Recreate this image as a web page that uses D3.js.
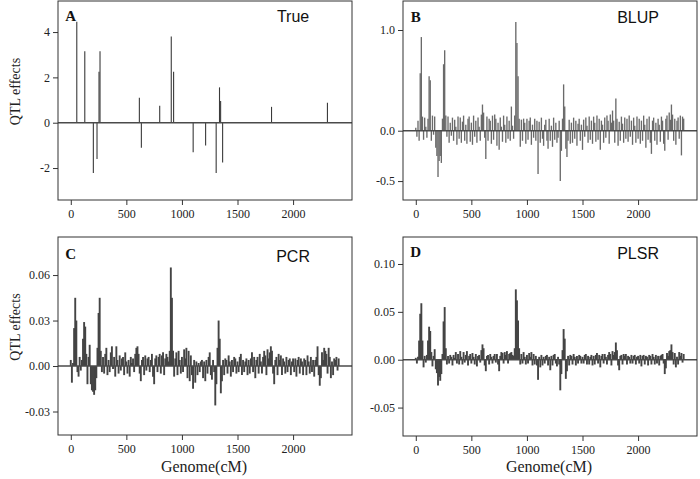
<!DOCTYPE html>
<html>
<head>
<meta charset="utf-8">
<script src="https://cdn.jsdelivr.net/npm/d3@7"></script>
<style>
  html, body { margin: 0; padding: 0; background: #fff; }
  svg { display: block; }
</style>
</head>
<body>
<svg id="chart" width="700" height="479"></svg>
<script>
// ---------------- DATA ----------------
// True QTL positions (cM) and effects
const truePos = [54,126,203,236,254,263,617,635,800,904,925,1101,1213,1308,1338,1348,1366,1806,2309];
const trueEff = [4.45,3.15,-2.22,-1.6,2.25,3.15,1.1,-1.1,0.75,3.8,2.25,-1.3,-1.0,-2.22,1.56,0.96,-1.75,0.7,0.88];

// Marker positions (cM) for estimated effects
const markerPos = [
0,10,20,30,40,50,60,70,80,90,
100,110,120,130,140,150,160,170,180,190,
200,210,220,230,240,250,260,270,280,290,
300,310,320,330,340,350,360,370,380,390,
400,410,420,430,440,450,460,470,480,490,
500,510,520,530,540,550,560,570,580,590,
600,610,620,630,640,650,660,670,680,690,
700,710,720,730,740,750,760,770,780,790,
800,810,820,830,840,850,860,870,880,890,
900,910,920,930,940,950,960,970,980,990,
1000,1010,1020,1030,1040,1050,1060,1070,1080,1090,
1100,1110,1120,1130,1140,1150,1160,1170,1180,1190,
1200,1210,1220,1230,1240,1250,1260,1270,1280,1290,
1300,1310,1320,1330,1340,1350,1360,1370,1380,1390,
1400,1410,1420,1430,1440,1450,1460,1470,1480,1490,
1500,1510,1520,1530,1540,1550,1560,1570,1580,1590,
1600,1610,1620,1630,1640,1650,1660,1670,1680,1690,
1700,1710,1720,1730,1740,1750,1760,1770,1780,1790,
1800,1810,1820,1830,1840,1850,1860,1870,1880,1890,
1900,1910,1920,1930,1940,1950,1960,1970,1980,1990,
2000,2010,2020,2030,2040,2050,2060,2070,2080,2090,
2100,2110,2120,2130,2140,2150,2160,2170,2180,2190,
2200,2210,2220,2230,2240,2250,2260,2270,2280,2290,
2300,2310,2320,2330,2340,2350,2360,2370,2380,2390,
2400,2410];

const blupEff = [
0.03,-0.06,0.1,-0.1,0.57,0.93,0.14,-0.09,0.13,0.04,
-0.07,0.12,0.54,0.5,-0.1,0.15,-0.04,0.14,-0.17,-0.25,
-0.46,-0.3,-0.25,-0.32,0.12,0.66,0.8,0.15,-0.06,0.14,
-0.12,0.08,-0.05,0.13,-0.1,0.11,0.04,-0.14,0.14,-0.08,
0.13,-0.12,0.09,0.15,-0.1,0.06,-0.13,0.12,0.14,-0.11,
0.08,-0.14,0.15,-0.06,0.1,-0.12,0.13,0.04,-0.1,0.16,
0.26,0.18,-0.07,-0.28,0.14,-0.1,0.12,0.1,-0.13,0.15,
-0.09,0.16,0.12,-0.15,0.08,-0.19,0.13,0.04,-0.11,0.15,
0.06,-0.12,0.14,-0.08,0.1,-0.1,0.24,0.05,-0.08,0.15,
1.08,0.87,0.54,0.12,-0.16,0.11,-0.1,0.12,0.08,-0.13,
0.12,-0.09,0.1,0.13,-0.14,0.06,-0.07,0.12,-0.1,0.1,
-0.43,0.09,-0.12,0.13,-0.08,-0.15,0.06,0.11,-0.1,-0.18,
0.12,-0.1,0.05,-0.16,0.13,-0.09,0.08,-0.12,-0.07,0.1,
-0.5,-0.2,0.12,0.46,0.24,-0.18,-0.26,-0.1,0.11,-0.13,
0.08,-0.12,0.13,-0.08,0.1,-0.15,0.07,0.12,-0.1,0.06,
-0.19,0.11,-0.06,0.13,0.05,-0.12,0.14,-0.09,0.1,-0.13,
0.14,0.08,-0.11,0.15,-0.09,0.12,-0.19,0.1,0.06,-0.12,
0.13,-0.07,0.15,0.1,-0.13,0.16,0.08,0.2,0.1,-0.12,
0.32,0.12,-0.15,0.09,-0.1,0.14,0.07,-0.12,0.13,-0.08,
0.12,-0.11,0.15,-0.06,0.1,-0.14,0.13,0.05,-0.12,0.14,
-0.08,0.12,-0.13,0.1,-0.1,0.15,0.06,-0.17,0.12,-0.09,
0.14,-0.12,-0.23,0.1,0.13,-0.1,0.08,-0.14,0.12,0.06,
-0.11,0.14,0.1,-0.13,-0.2,0.12,0.15,-0.09,0.18,0.11,
0.26,0.16,-0.1,0.12,-0.14,0.1,0.13,-0.08,0.15,-0.245,
0.14,0.12];

const pcrEff = [
0.004,-0.011,0.002,0.025,0.045,0.03,-0.004,-0.007,0.006,-0.003,
0.004,0.018,0.029,0.026,0.008,-0.012,0.006,0.014,-0.012,-0.016,
-0.017,-0.019,-0.016,-0.008,0.012,0.035,0.045,0.01,-0.004,0.006,
-0.005,0.008,0.012,-0.006,0.004,-0.004,0.009,0.013,-0.002,0.006,
-0.007,0.013,0.004,-0.005,0.007,-0.003,0.005,0.006,-0.006,0.009,
0.003,-0.005,0.004,-0.007,0.006,0.002,0.005,-0.004,0.008,0.012,
0.013,0.008,-0.005,-0.01,0.004,0.006,-0.006,0.007,-0.003,0.005,
0.006,-0.004,0.004,0.008,-0.007,-0.012,0.005,0.007,-0.004,0.006,
0.008,-0.005,0.007,0.009,-0.006,0.005,0.008,0.006,0.003,0.01,
0.065,0.045,0.01,-0.007,0.005,0.009,-0.006,0.01,0.004,-0.005,
0.006,-0.004,0.011,0.005,0.012,-0.008,0.01,-0.01,0.007,-0.006,
-0.015,0.004,-0.011,0.003,-0.006,0.002,-0.004,0.003,0.004,-0.008,
0.003,-0.01,0.004,-0.005,0.006,0.009,-0.006,-0.009,0.004,-0.004,
-0.026,-0.012,0.012,0.03,0.018,-0.018,-0.01,0.004,-0.006,0.005,
0.004,-0.005,0.007,0.003,-0.007,0.004,-0.004,0.006,0.005,-0.005,
0.003,-0.004,0.006,0.008,-0.006,0.004,-0.004,0.003,0.005,-0.006,
0.004,-0.005,0.005,0.009,-0.004,0.006,-0.008,0.004,0.006,-0.005,
0.008,0.003,-0.005,0.006,0.01,0.007,-0.006,0.011,0.005,0.009,
0.013,0.01,-0.005,-0.012,0.004,0.006,-0.006,0.008,0.004,0.007,
-0.006,0.005,0.003,-0.005,0.006,-0.004,0.004,0.005,-0.006,0.003,
0.005,-0.004,0.005,-0.007,0.004,0.006,-0.005,0.005,0.003,-0.006,
0.005,0.004,-0.006,0.007,0.003,-0.005,0.006,-0.004,0.004,-0.007,
0.004,0.006,0.013,-0.006,-0.013,-0.008,0.009,0.004,0.012,0.01,
0.008,-0.005,0.012,0.006,-0.008,0.003,-0.006,0.005,0.004,0.006,
-0.003,0.005];

const plsrEff = [
0.002,-0.004,0.003,0.02,0.048,0.059,0.02,-0.008,0.004,-0.003,
0.005,0.02,0.0345,0.03,0.008,-0.007,0.004,0.011,-0.01,-0.014,
-0.027,-0.018,-0.022,-0.015,0.006,0.04,0.055,0.012,-0.005,0.004,
-0.004,0.005,0.003,-0.006,0.005,0.002,0.008,-0.004,0.006,-0.005,
0.009,0.003,-0.005,0.008,-0.003,0.005,0.009,-0.006,0.004,0.006,
-0.004,0.007,0.003,-0.005,0.006,-0.007,0.004,0.005,-0.003,0.01,
0.016,0.012,-0.006,-0.012,0.004,0.005,-0.005,0.006,0.003,-0.004,
0.004,0.006,-0.003,0.006,-0.005,-0.012,0.004,0.008,0.007,-0.004,
0.008,0.005,0.009,-0.004,0.006,0.007,0.008,0.005,0.004,0.012,
0.0735,0.062,0.041,0.012,-0.005,0.006,-0.004,0.008,0.003,-0.005,
0.005,-0.004,0.007,0.003,0.008,-0.006,0.006,-0.005,0.004,-0.006,
-0.021,0.003,-0.008,0.005,-0.006,0.003,-0.004,0.004,0.005,-0.006,
0.003,-0.011,0.004,-0.006,0.005,0.006,-0.004,-0.007,0.003,-0.005,
-0.032,-0.015,0.01,0.032,0.022,-0.02,-0.012,0.004,-0.006,0.005,
0.004,-0.005,0.006,0.003,-0.006,0.004,-0.004,0.005,0.004,-0.004,
0.003,-0.004,0.005,0.006,-0.005,0.004,-0.005,0.003,0.005,-0.006,
0.004,-0.005,0.005,0.007,-0.004,0.005,-0.008,0.004,0.006,-0.004,
0.006,0.003,-0.005,0.005,0.008,0.006,-0.006,0.009,0.005,0.008,
0.018,0.01,-0.006,-0.011,0.004,0.005,-0.005,0.006,0.004,0.006,
-0.005,0.004,0.003,-0.004,0.005,-0.004,0.004,0.005,-0.005,0.003,
0.004,-0.004,0.005,-0.007,0.004,0.005,-0.005,0.004,0.003,-0.006,
0.005,0.004,-0.005,0.006,0.003,-0.005,0.005,-0.004,0.004,-0.006,
0.004,0.005,0.006,-0.004,-0.015,-0.009,0.007,0.004,0.009,0.01,
0.016,0.008,-0.005,0.007,-0.008,0.003,-0.005,0.008,0.004,0.007,
-0.003,0.006];

// Tick values and labels
const xTicks = [0, 500, 1000, 1500, 2000];
const xTickLabels = ["0", "500", "1000", "1500", "2000"];
const yTicksA = [-2, 0, 2, 4];
const yTickLabelsA = ["-2", "0", "2", "4"];
const yTicksB = [-0.5, 0, 1.0];
const yTickLabelsB = ["-0.5", "0.0", "1.0"];
const yTicksC = [-0.03, 0, 0.03, 0.06];
const yTickLabelsC = ["-0.03", "0.00", "0.03", "0.06"];
const yTicksD = [-0.05, 0, 0.05, 0.10];
const yTickLabelsD = ["-0.05", "0.00", "0.05", "0.10"];

const panelLetters = ["A", "B", "C", "D"];
const panelTitles = ["True", "BLUP", "PCR", "PLSR"];
const xDomain = [-115, 2530];

// ---------------- LAYOUT ----------------
const panels = [
  { letter: panelLetters[0], title: panelTitles[0], pos: truePos, eff: trueEff,
    x0: 58, x1: 352, y0: 1, y1: 200, yDom: [-3.41, 5.37], yt: yTicksA, ytl: yTickLabelsA,
    barColor: "#3a3a3a", barW: 1.1, letterDy: 19.7, titleDy: 20.7, ylab: true, xlab: false },
  { letter: panelLetters[1], title: panelTitles[1], pos: markerPos, eff: blupEff,
    x0: 403, x1: 697, y0: 1, y1: 200, yDom: [-0.688, 1.288], yt: yTicksB, ytl: yTickLabelsB,
    barColor: "#6a6a6a", barW: 1.35, letterDy: 20.7, titleDy: 21.7, ylab: false, xlab: false },
  { letter: panelLetters[2], title: panelTitles[2], pos: markerPos, eff: pcrEff,
    x0: 58, x1: 352, y0: 237, y1: 435, yDom: [-0.0455, 0.0851], yt: yTicksC, ytl: yTickLabelsC,
    barColor: "#444444", barW: 1.9, letterDy: 22.3, titleDy: 24.7, ylab: true, xlab: true },
  { letter: panelLetters[3], title: panelTitles[3], pos: markerPos, eff: plsrEff,
    x0: 403, x1: 697, y0: 237, y1: 436, yDom: [-0.0797, 0.1282], yt: yTicksD, ytl: yTickLabelsD,
    barColor: "#444444", barW: 1.9, letterDy: 19.7, titleDy: 22, ylab: false, xlab: true }
];

const svg = d3.select("#chart");
const serif = "'Liberation Serif', 'Times New Roman', serif";
const sans = "'Liberation Sans', Arial, sans-serif";

panels.forEach(p => {
  const x = d3.scaleLinear().domain(xDomain).range([p.x0, p.x1]);
  const y = d3.scaleLinear().domain(p.yDom).range([p.y1, p.y0]);
  const g = svg.append("g");

  // bars
  g.append("g").selectAll("line")
    .data(p.pos.map((d, i) => ({ x: d, v: p.eff[i] })))
    .join("line")
    .attr("x1", d => x(d.x)).attr("x2", d => x(d.x))
    .attr("y1", y(0)).attr("y2", d => y(d.v))
    .attr("stroke", p.barColor)
    .attr("stroke-width", p.barW);

  // zero line
  g.append("line")
    .attr("x1", p.x0).attr("x2", p.x1)
    .attr("y1", y(0)).attr("y2", y(0))
    .attr("stroke", "#4a4a4a").attr("stroke-width", 1.5);

  // border
  g.append("rect")
    .attr("x", p.x0).attr("y", p.y0)
    .attr("width", p.x1 - p.x0).attr("height", p.y1 - p.y0)
    .attr("fill", "none").attr("stroke", "#333").attr("stroke-width", 1);

  // axes
  const xa = g.append("g").attr("transform", `translate(0,${p.y1})`)
    .call(d3.axisBottom(x).tickValues(xTicks).tickSize(5).tickPadding(4)
      .tickFormat((d, i) => xTickLabels[i]));
  const ya = g.append("g").attr("transform", `translate(${p.x0},0)`)
    .call(d3.axisLeft(y).tickValues(p.yt).tickSize(5).tickPadding(3)
      .tickFormat((d, i) => p.ytl[i]));
  [xa, ya].forEach(a => {
    a.select(".domain").remove();
    a.selectAll(".tick line").attr("stroke", "#333");
    a.selectAll(".tick text").attr("fill", "#222")
      .style("font-family", serif).style("font-size", "12px");
  });

  // panel letter and title
  g.append("text")
    .attr("x", x(0)).attr("y", p.y0 + p.letterDy)
    .attr("text-anchor", "middle")
    .style("font-family", serif).style("font-weight", "bold").style("font-size", "15px")
    .attr("fill", "#111").text(p.letter);
  g.append("text")
    .attr("x", x(2000)).attr("y", p.y0 + p.titleDy)
    .attr("text-anchor", "middle")
    .style("font-family", sans).style("font-size", "16px")
    .attr("fill", "#111").text(p.title);

  if (p.ylab) {
    g.append("text")
      .attr("transform", `translate(19.5,${(p.y0 + p.y1) / 2 - 9}) rotate(-90)`)
      .attr("text-anchor", "middle")
      .style("font-family", serif).style("font-size", "14px")
      .attr("fill", "#222").text("QTL effects");
  }
  if (p.xlab) {
    g.append("text")
      .attr("x", (p.x0 + p.x1) / 2 - 1).attr("y", 472)
      .attr("text-anchor", "middle")
      .style("font-family", serif).style("font-size", "16px")
      .attr("fill", "#222").text("Genome(cM)");
  }
});
</script>
</body>
</html>
